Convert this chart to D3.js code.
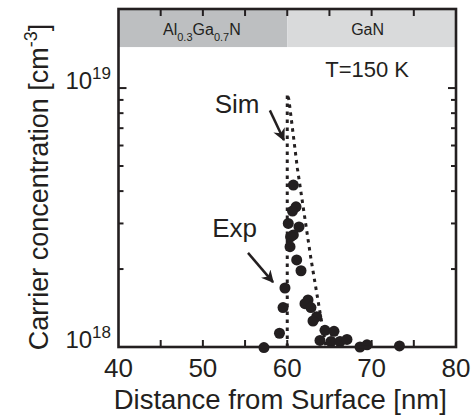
<!DOCTYPE html>
<html>
<head>
<meta charset="utf-8">
<script src="https://cdn.jsdelivr.net/npm/d3@7"></script>
<style>
  body { margin: 0; background: #fff; }
  svg { display: block; font-family: "Liberation Sans", Arial, sans-serif; }
</style>
</head>
<body>
<svg id="chart" width="475" height="418"></svg>
<script>
// data
const expX = [60.72, 61.04, 60.62, 60.12, 61.39, 60.72, 60.39, 60.33, 61.12, 61.63,
              59.73, 59.50, 59.08, 57.24, 62.46, 62.10, 62.81, 63.49, 63.05, 64.47,
              63.88, 65.54, 65.19, 66.25, 67.08, 68.62, 69.45, 73.30];
const expY = [4.22e18, 3.48e18, 3.35e18, 3.00e18, 2.91e18, 2.71e18, 2.66e18, 2.44e18, 2.17e18, 1.97e18,
              1.69e18, 1.42e18, 1.13e18, 0.995e18, 1.52e18, 1.47e18, 1.42e18, 1.31e18, 1.26e18, 1.16e18,
              1.06e18, 1.15e18, 1.05e18, 1.05e18, 1.07e18, 1.00e18, 1.02e18, 1.01e18];
const simX = [60, 60, 60.2, 61.2, 62.8, 63.9, 64.6];
const simY = [1e18, 9.5e18, 9.0e18, 4.9e18, 2.2e18, 1.35e18, 1.0e18];

const xTicks = [40, 50, 60, 70, 80];
const xMinor = [45, 55, 65, 75];
const yMajor = [1e18, 1e19];
const yMinor = [2e18, 3e18, 4e18, 5e18, 6e18, 7e18, 8e18, 9e18];

const layers = [
  { name: "AlGaN", from: 40, to: 60, fill: "#bdbfc1" },
  { name: "GaN",   from: 60, to: 80, fill: "#d9dadb" }
];

const ink = "#231f20";
const svg = d3.select("#chart");

const x = d3.scaleLinear().domain([40, 80]).range([118.5, 456]);
const y = d3.scaleLog().domain([1e18, 2.02e19]).range([347, 9]);
const bandBottom = 1.44e19;

// layer bands
svg.selectAll("rect.band")
  .data(layers)
  .enter().append("rect")
    .attr("class", "band")
    .attr("x", d => x(d.from))
    .attr("y", y.range()[1])
    .attr("width", d => x(d.to) - x(d.from))
    .attr("height", y(bandBottom) - y.range()[1])
    .attr("fill", d => d.fill);

// band labels
const alg = svg.append("text")
  .attr("x", x(50) - 1).attr("y", 35)
  .attr("text-anchor", "middle")
  .attr("font-size", 16).attr("fill", ink);
alg.append("tspan").text("Al");
alg.append("tspan").attr("font-size", 11).attr("dy", 6).text("0.3");
alg.append("tspan").attr("dy", -6).text("Ga");
alg.append("tspan").attr("font-size", 11).attr("dy", 6).text("0.7");
alg.append("tspan").attr("dy", -6).text("N");

svg.append("text")
  .attr("x", x(70) - 4).attr("y", 35)
  .attr("text-anchor", "middle")
  .attr("font-size", 16).attr("fill", ink)
  .text("GaN");

// axes with inward ticks
const tickLen = 7, minorLen = 5;
const axisG = svg.append("g").attr("stroke", ink).attr("stroke-width", 2);
const xAll = xTicks.concat(xMinor).filter(v => v > 40 && v < 80);
xAll.forEach(v => {
  axisG.append("line").attr("x1", x(v)).attr("x2", x(v))
    .attr("y1", y.range()[0]).attr("y2", y.range()[0] - tickLen);
  axisG.append("line").attr("x1", x(v)).attr("x2", x(v))
    .attr("y1", y.range()[1]).attr("y2", y.range()[1] + tickLen);
});
yMajor.concat(yMinor).forEach(v => {
  const len = yMajor.includes(v) ? tickLen + 1 : minorLen;
  axisG.append("line").attr("x1", x(40)).attr("x2", x(40) + len)
    .attr("y1", y(v)).attr("y2", y(v));
  axisG.append("line").attr("x1", x(80)).attr("x2", x(80) - len)
    .attr("y1", y(v)).attr("y2", y(v));
});

// x tick labels
svg.selectAll("text.xt")
  .data(xTicks)
  .enter().append("text")
    .attr("class", "xt")
    .attr("x", d => x(d))
    .attr("y", 377)
    .attr("text-anchor", "middle")
    .attr("font-size", 26)
    .attr("fill", ink)
    .text(d => d);

// y tick labels 10^18, 10^19
yMajor.forEach(v => {
  const t = svg.append("text")
    .attr("x", 111).attr("y", y(v) + 1)
    .attr("text-anchor", "end")
    .attr("font-size", 24).attr("fill", ink);
  t.append("tspan").text("10");
  t.append("tspan").attr("font-size", 17).attr("dy", -10).text(Math.round(Math.log10(v)));
});

// axis titles
svg.append("text")
  .attr("x", (x(40) + x(80)) / 2 - 7).attr("y", 409)
  .attr("text-anchor", "middle")
  .attr("font-size", 27.5).attr("fill", ink)
  .text("Distance from Surface [nm]");

const yl = svg.append("text")
  .attr("transform", `translate(48,${(y.range()[0] + y.range()[1]) / 2 + 9}) rotate(-90)`)
  .attr("text-anchor", "middle")
  .attr("font-size", 27).attr("fill", ink);
yl.append("tspan").text("Carrier concentration [cm");
yl.append("tspan").attr("font-size", 18).attr("dy", -11).text("-3");
yl.append("tspan").attr("dy", 11).text("]");

// simulation (dotted)
const simLine = d3.line().x(d => x(d[0])).y(d => y(d[1]));
svg.append("path")
  .datum(simX.map((v, i) => [v, simY[i]]))
  .attr("d", simLine)
  .attr("fill", "none")
  .attr("stroke", ink)
  .attr("stroke-width", 3)
  .attr("stroke-dasharray", "3.5,4.5");

// experiment points
svg.append("g").selectAll("circle")
  .data(expX.map((v, i) => [v, expY[i]]))
  .enter().append("circle")
    .attr("cx", d => x(d[0]))
    .attr("cy", d => y(d[1]))
    .attr("r", 5.5)
    .attr("fill", ink);

// frame
svg.append("rect")
  .attr("x", x(40)).attr("y", y.range()[1])
  .attr("width", x(80) - x(40))
  .attr("height", y.range()[0] - y.range()[1])
  .attr("fill", "none")
  .attr("stroke", ink)
  .attr("stroke-width", 2.6);

// annotations
svg.append("defs").append("marker")
  .attr("id", "head")
  .attr("viewBox", "0 0 10 10")
  .attr("refX", 9).attr("refY", 5)
  .attr("markerWidth", 5).attr("markerHeight", 5)
  .attr("markerUnits", "strokeWidth")
  .attr("orient", "auto")
  .append("path").attr("d", "M0,0 L10,5 L0,10 L3,5 Z").attr("fill", ink);

const arrows = [
  { from: [57.94, 8.2e18], to: [59.6, 6.3e18] },
  { from: [55.35, 2.31e18], to: [58.31, 1.78e18] }
];
svg.selectAll("line.arrow")
  .data(arrows)
  .enter().append("line")
    .attr("class", "arrow")
    .attr("x1", d => x(d.from[0])).attr("y1", d => y(d.from[1]))
    .attr("x2", d => x(d.to[0])).attr("y2", d => y(d.to[1]))
    .attr("stroke", ink).attr("stroke-width", 2.5)
    .attr("marker-end", "url(#head)");

const notes = [
  { text: "Sim", at: [51.4, 8.0e18], size: 26 },
  { text: "Exp", at: [51.1, 2.66e18], size: 26 },
  { text: "T=150 K", at: [64.5, 1.1e19], size: 22 }
];
svg.selectAll("text.note")
  .data(notes)
  .enter().append("text")
    .attr("class", "note")
    .attr("x", d => x(d.at[0]))
    .attr("y", d => y(d.at[1]))
    .attr("font-size", d => d.size)
    .attr("fill", ink)
    .text(d => d.text);
</script>
</body>
</html>
